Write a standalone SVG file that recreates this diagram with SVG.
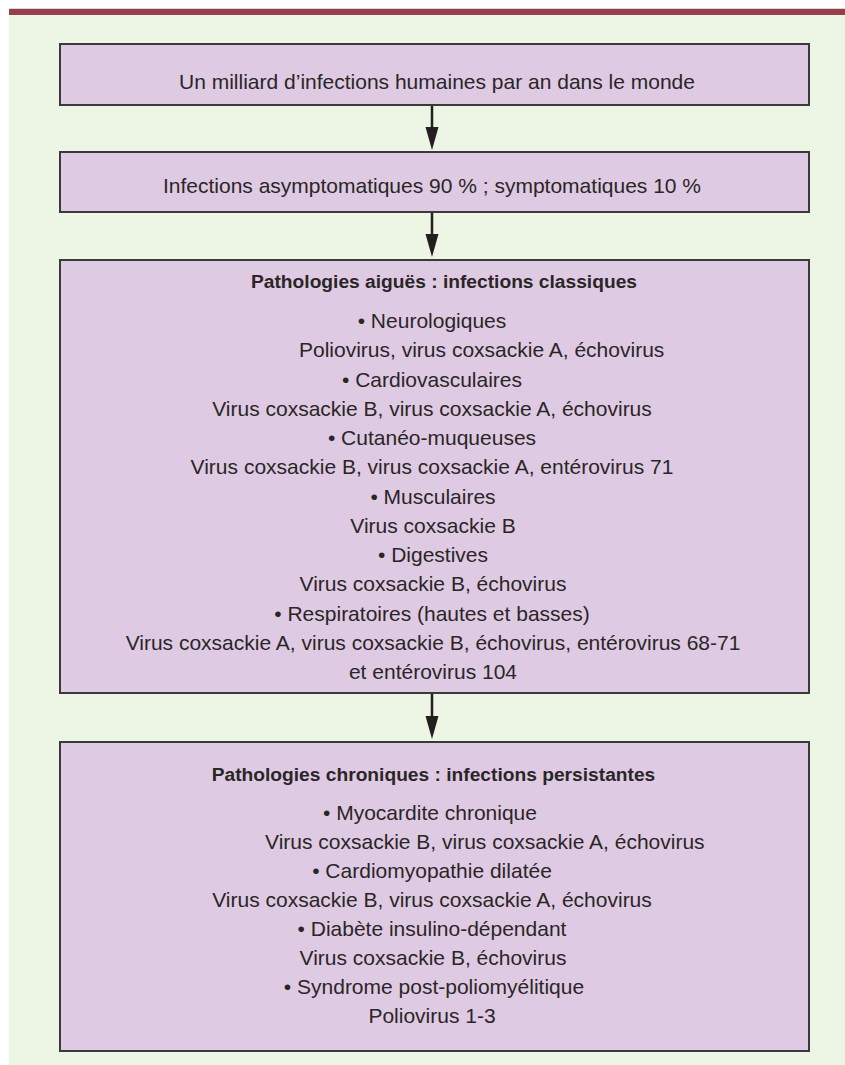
<svg xmlns="http://www.w3.org/2000/svg" width="845" height="1065" viewBox="0 0 845 1065">
<style>
.box{fill:#dfcae3;stroke:#3a3a3a;stroke-width:2}
.t{font-family:"Liberation Sans",Arial,sans-serif;font-size:21px;fill:#2a2626;text-anchor:middle}
.s{text-anchor:start}
.b{font-weight:bold;font-size:19.2px}
.conn{stroke:#231f20;stroke-width:2.5;fill:none}
</style>
<defs>
<marker id="ah" markerWidth="13" markerHeight="22" refX="6.5" refY="22" orient="auto-start-reverse" markerUnits="userSpaceOnUse" viewBox="0 0 13 22">
<path d="M0,0 L13,0 L6.5,22 Z" fill="#231f20" transform="rotate(0)"/>
</marker>
</defs>
<rect x="0" y="0" width="845" height="1065" fill="#ffffff"/>
<rect x="9" y="15" width="836" height="1050" fill="#edf5e5"/>
<rect x="9" y="8" width="836" height="1" fill="#d6d6d6"/>
<rect x="9" y="9" width="836" height="6" fill="#963f4b"/>

<g id="connectors">
<line class="conn" x1="432" y1="105" x2="432" y2="128"/>
<path d="M425.5,127 L438.5,127 L432,150 Z" fill="#231f20"/>
<line class="conn" x1="432" y1="212" x2="432" y2="235"/>
<path d="M425.5,234 L438.5,234 L432,257 Z" fill="#231f20"/>
<line class="conn" x1="432" y1="693" x2="432" y2="717"/>
<path d="M425.5,716 L438.5,716 L432,739 Z" fill="#231f20"/>
</g>

<g id="node1">
<rect class="box" x="60" y="44" width="749" height="61"/>
<text class="t" x="437" y="89">Un milliard d’infections humaines par an dans le monde</text>
</g>

<g id="node2">
<rect class="box" x="60" y="152" width="749" height="60"/>
<text class="t" x="432" y="193">Infections asymptomatiques 90 % ; symptomatiques 10 %</text>
</g>

<g id="node3">
<rect class="box" x="60" y="260" width="749" height="433"/>
<text class="t b" x="444" y="288">Pathologies aiguës : infections classiques</text>
<text class="t" x="432" y="328">• Neurologiques</text>
<text class="t s" x="299" y="357">Poliovirus, virus coxsackie A, échovirus</text>
<text class="t" x="432" y="386.5">• Cardiovasculaires</text>
<text class="t" x="432" y="416">Virus coxsackie B, virus coxsackie A, échovirus</text>
<text class="t" x="432" y="445">• Cutanéo-muqueuses</text>
<text class="t" x="432" y="474">Virus coxsackie B, virus coxsackie A, entérovirus 71</text>
<text class="t" x="433" y="503.5">• Musculaires</text>
<text class="t" x="433" y="533">Virus coxsackie B</text>
<text class="t" x="433" y="562">• Digestives</text>
<text class="t" x="433" y="591">Virus coxsackie B, échovirus</text>
<text class="t" x="432" y="620.5">• Respiratoires (hautes et basses)</text>
<text class="t" x="433" y="650">Virus coxsackie A, virus coxsackie B, échovirus, entérovirus 68-71</text>
<text class="t" x="433" y="679">et entérovirus 104</text>
</g>

<g id="node4">
<rect class="box" x="60" y="742" width="749" height="309"/>
<text class="t b" x="433.5" y="781">Pathologies chroniques : infections persistantes</text>
<text class="t" x="430" y="820">• Myocardite chronique</text>
<text class="t s" x="265" y="849">Virus coxsackie B, virus coxsackie A, échovirus</text>
<text class="t" x="432" y="878">• Cardiomyopathie dilatée</text>
<text class="t" x="432" y="907">Virus coxsackie B, virus coxsackie A, échovirus</text>
<text class="t" x="432" y="936">• Diabète insulino-dépendant</text>
<text class="t" x="433" y="965">Virus coxsackie B, échovirus</text>
<text class="t" x="434" y="994">• Syndrome post-poliomyélitique</text>
<text class="t" x="432" y="1023">Poliovirus 1-3</text>
</g>
</svg>
